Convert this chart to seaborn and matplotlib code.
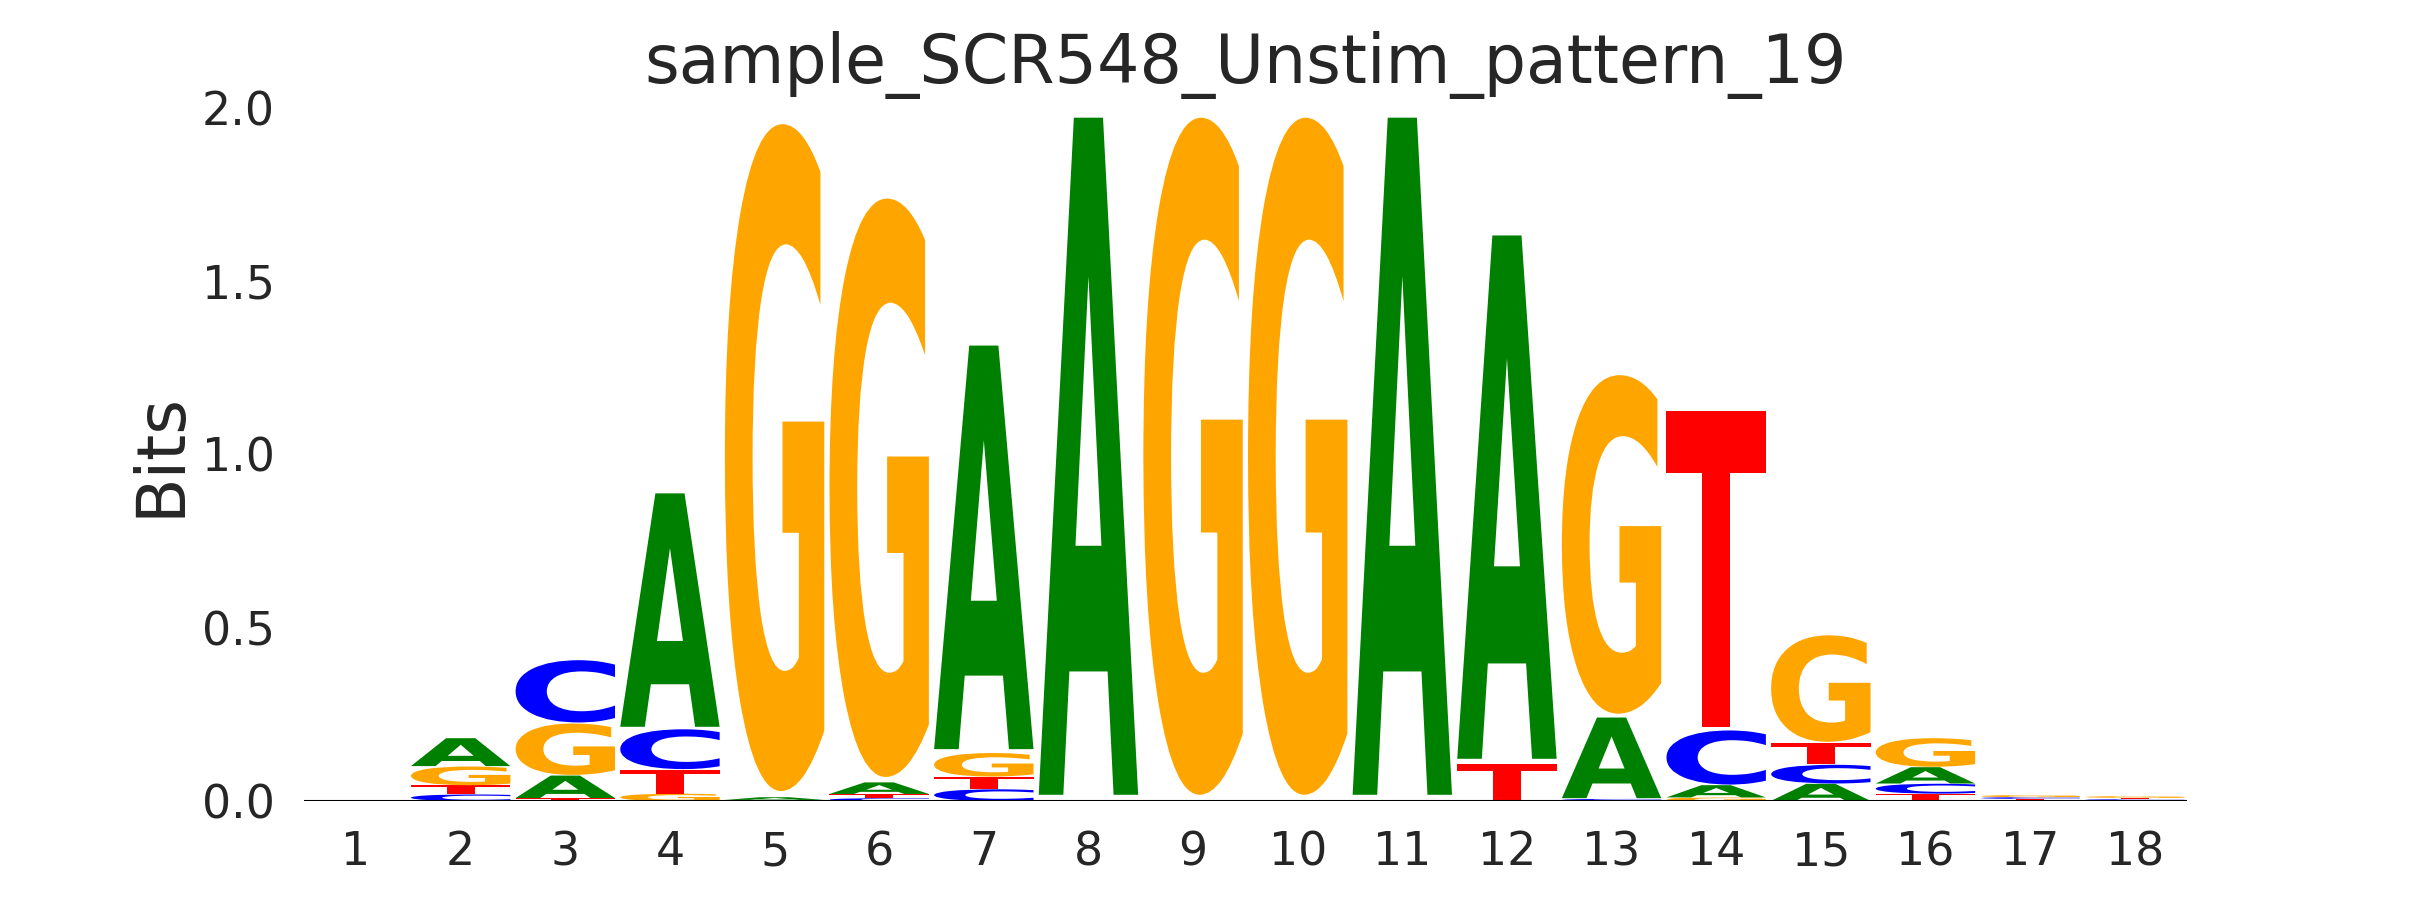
import matplotlib
matplotlib.use("Agg")
import matplotlib.pyplot as plt
import seaborn as sns
import numpy as np
from matplotlib.textpath import TextPath
from matplotlib.font_manager import FontProperties
from matplotlib.patches import PathPatch
from matplotlib.transforms import Affine2D

# information content (bits) per letter, positions 1..18
positions = list(range(1, 19))
bits_A = [0, 0.082, 0.066, 0.686, 0.008, 0.034, 1.186, 1.99, 0, 0, 1.99, 1.538, 0.237, 0.036, 0.050, 0.048, 0.002, 0.002]
bits_C = [0, 0.019, 0.183, 0.117, 0.002, 0.008, 0.034, 0, 0, 0, 0, 0, 0.006, 0.159, 0.055, 0.029, 0.005, 0.003]
bits_G = [0, 0.055, 0.151, 0.021, 1.960, 1.700, 0.069, 0, 1.99, 1.99, 0, 0, 0.995, 0.010, 0.313, 0.084, 0.006, 0.005]
bits_T = [0, 0.026, 0.008, 0.070, 0.001, 0.012, 0.036, 0, 0, 0, 0, 0.108, 0, 0.928, 0.063, 0.021, 0.004, 0.004]

letter_bits = {"A": bits_A, "C": bits_C, "G": bits_G, "T": bits_T}
letter_colors = {"A": "green", "C": "blue", "G": "orange", "T": "red"}
title = "sample_SCR548_Unstim_pattern_19"

sns.set_theme(style="white", context="notebook",
              rc={"xtick.major.size": 3.5, "ytick.major.size": 3.5,
                  "xtick.major.pad": 3.5, "ytick.major.pad": 3.5})
plt.rcParams["font.family"] = ["DejaVu Sans"]

fig, ax = plt.subplots(figsize=(8.1, 3), dpi=300)

glyph_font = FontProperties(family="DejaVu Sans", weight="bold")
glyph_paths = {c: TextPath((0, 0), c, size=1, prop=glyph_font) for c in letter_bits}

width = 0.95
vpad = 0.018


def draw_glyph(ax, letter, x, floor, height):
    if height <= 0:
        return
    path = glyph_paths[letter]
    ext = path.get_extents()
    pad = vpad * height
    h = height - pad
    tr = (Affine2D()
          .translate(-ext.x0, -ext.y0)
          .scale(width / ext.width, h / ext.height)
          .translate(x - width / 2, floor + pad / 2))
    patch = PathPatch(tr.transform_path(path), facecolor=letter_colors[letter],
                      edgecolor="none", linewidth=0)
    ax.add_patch(patch)


for i, pos in enumerate(positions):
    stack = sorted(((letter_bits[c][i], c) for c in letter_bits), key=lambda t: t[0])
    floor = 0.0
    for h, c in stack:
        draw_glyph(ax, c, pos, floor, h)
        floor += h

ax.axhline(0, color="black", linewidth=0.5)
ax.set_xlim(0.5, 18.5)
ax.set_ylim(0, 2)
ax.set_xticks(positions)
ax.set_xticklabels([str(p) for p in positions])
ax.set_yticks([0, 0.5, 1.0, 1.5, 2.0])
ax.set_yticklabels(["0.0", "0.5", "1.0", "1.5", "2.0"])
ax.set_ylabel("Bits", fontsize=16, labelpad=2)
ax.set_title(title, fontsize=16)
sns.despine(ax=ax, left=True, bottom=True)

fig.savefig("out.png", dpi=300)
